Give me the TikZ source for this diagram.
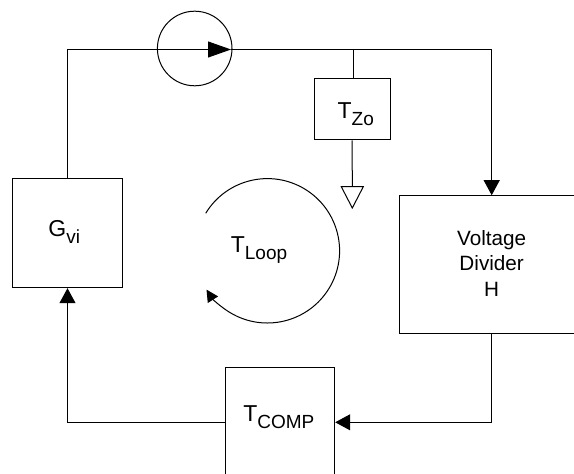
\documentclass[tikz,border=0pt]{standalone}
\usepackage{fontspec}
\setmainfont{Liberation Sans}
\usetikzlibrary{arrows.meta}
\usetikzlibrary{shapes.geometric}
\newcommand{\bigtxt}{\fontsize{23}{25}\selectfont}
\newcommand{\subtxt}[2]{{\bigtxt #1\raisebox{-7pt}{\fontsize{19}{20}\selectfont #2}}}

\begin{document}
\begin{tikzpicture}[x=1pt,y=1pt]

\tikzstyle{box1}=[rectangle, draw, line width=1pt, inner sep=0pt]
\tikzstyle{box2}=[circle, draw, line width=1pt, inner sep=0pt, minimum size=74.6pt]
\tikzstyle{box3}=[isosceles triangle, isosceles triangle stretches, shape border rotate=-90, draw, line width=1pt, inner sep=0pt, minimum width=22pt, minimum height=21.3pt]
\tikzstyle{txt}=[anchor=base, inner sep=0pt]
\tikzstyle{wire}=[line width=1pt]
\tikzstyle{arrow}=[line width=1pt,-{Triangle[length=15pt,width=16pt]}]
\tikzstyle{bigarrow}=[line width=1pt,-{Triangle[length=23pt,width=16pt]}]
\tikzstyle{looparrow}=[line width=1pt,-{Triangle[length=12pt,width=12pt]}]

\useasboundingbox (0,0) rectangle (574,474);

\node (Gvi) [box1, minimum width=109.6pt, minimum height=108.7pt] at (67.5,240.65) {};
\node (Tzo) [box1, minimum width=76.3pt, minimum height=61pt] at (352.15,364.5) {};
\node (Hdiv) [box1, minimum width=185.4pt, minimum height=138pt] at (491.7,209.3) {};
\node (Tcomp) [box1, minimum width=109.7pt, minimum height=108.6pt] at (279.85,51.7) {};
\node (sense) [box2] at (194.7,425.5) {};
\node (gnd) [box3] at (352.3,280.6) {};

\node (GviText) [txt] at (64.2,237.3) {\subtxt{G}{vi}};
\node (TzoText) [txt] at (355.8,355.7) {\subtxt{T}{Zo}};
\node (LoopText) [txt] at (259,221.3) {\subtxt{T}{Loop}};
\node (CompText) [txt] at (278.8,52.3) {\subtxt{T}{COMP}};
\node (HdivText) [anchor=center, inner sep=0pt, align=center, font=\fontsize{20.7}{25.3}\selectfont] at (491.7,210.5) {Voltage\\Divider\\H};

\coordinate (senseTip) at (231,424.5);
\coordinate (tap) at (353.7,424.5);
\coordinate (loopStart) at (205.7,260.7);

\draw [bigarrow] (Gvi.north) |- (senseTip);
\draw [arrow] (senseTip) -| (Hdiv.north);
\draw [wire] (tap) -- (tap |- Tzo.north);
\draw [wire] (Tzo.south) -- (gnd.north);
\draw [arrow] (Hdiv.south) |- (Tcomp.east);
\draw [arrow] (Tcomp.west) -| (Gvi.south);
\draw [looparrow] (loopStart) arc [start angle=148.7, end angle=-147.5, radius=72.2];

\end{tikzpicture}
\end{document}
